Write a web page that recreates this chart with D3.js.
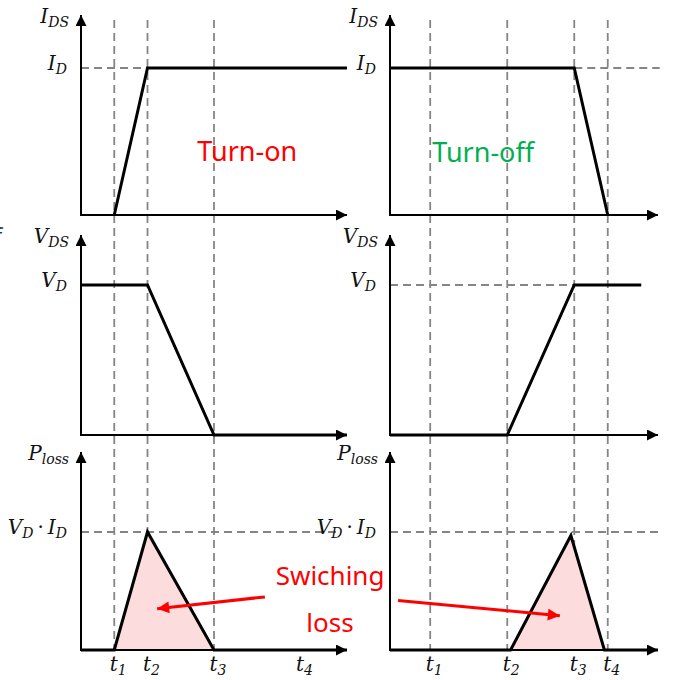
<!DOCTYPE html>
<html>
<head>
<meta charset="utf-8">
<script src="https://cdn.jsdelivr.net/npm/d3@7"></script>
<style>
	body { margin: 0; background: #fff; }
	.math { font-family: "DejaVu Serif", "Liberation Serif", serif; font-style: italic; fill: #111; }
	.note { font-family: "Noto Sans", "Open Sans", sans-serif; }
</style>
</head>
<body>
<div class="container"></div>
<script>

// time instants t1..t4 (panel time units)
const onTimes = [1, 2, 4, 6.6];
const offTimes = [1.2, 3.5, 5.5, 6.5];
const timeNames = ["1", "2", "3", "4"];

// waveforms [time, level] where level 1 = I_D / V_D / V_D*I_D
const onCurrent = [[1, 0], [2, 1], [8, 1]];
const onVoltage = [[0, 1], [2, 1], [4, 0], [8, 0]];
const onLoss = [[0, 0], [1, 0], [2, 1], [4, 0], [8, 0]];
const offCurrent = [[0, 1], [5.5, 1], [6.5, 0]];
const offVoltage = [[0, 0], [3.5, 0], [5.5, 1], [7.5, 1]];
const offLoss = [[0, 0], [3.6, 0], [5.4, 0.97], [6.4, 0], [8, 0]];

// axis names and level names
const axisNames = [[["I", ""], ["DS", "sub"]], [["V", ""], ["DS", "sub"]], [["P", ""], ["loss", "sub"]]];
const levelNames = [[["I", ""], ["D", "sub"]], [["V", ""], ["D", "sub"]], [["V", ""], ["D", "sub"], ["\u2009·\u2009", "up"], ["I", ""], ["D", "sub"]]];

const outerWidth = 680, outerHeight = 680;
const svg = d3.select(".container").append("svg")
	.attr("width", outerWidth)
	.attr("height", outerHeight);

const defs = svg.append("defs");
defs.append("marker")
	.attr("id", "axhead")
	.attr("viewBox", "0 0 10 10")
	.attr("refX", 10).attr("refY", 5)
	.attr("markerWidth", 6).attr("markerHeight", 5.5)
	.attr("markerUnits", "strokeWidth")
	.attr("orient", "auto")
	.append("path").attr("d", "M0,0L10,5L0,10Z").style("fill", "#000");
defs.append("marker")
	.attr("id", "redhead")
	.attr("viewBox", "0 0 10 10")
	.attr("refX", 10).attr("refY", 5)
	.attr("markerWidth", 5).attr("markerHeight", 4)
	.attr("markerUnits", "strokeWidth")
	.attr("orient", "auto")
	.append("path").attr("d", "M0,0L10,5L0,10Z").style("fill", "#f00");

// layout
const cols = [
	{ x0: 81, x1: 347, times: onTimes, waves: [onCurrent, onVoltage, onLoss] },
	{ x0: 390, x1: 658, times: offTimes, waves: [offCurrent, offVoltage, offLoss] }
];
const rows = [
	{ top: 15, level: 68, base: 215 },
	{ top: 235, level: 285, base: 435 },
	{ top: 452, level: 532, base: 650 }
];
const dashTop = 20;

const scaleX = cols.map((c) => d3.scaleLinear().domain([0, 8]).range([c.x0, c.x1]));
const scaleY = rows.map((r) => d3.scaleLinear().domain([0, 1]).range([r.base, r.level]));

const dash = (sel) => sel.style("stroke", "#858585").style("stroke-width", 1.8).style("stroke-dasharray", "8,5").style("fill", "none");

function mathLabel(parent, x, y, parts, anchor) {
	const t = parent.append("text")
		.attr("class", "math")
		.attr("x", x).attr("y", y)
		.attr("text-anchor", anchor || "end")
		.style("font-size", "20px");
	parts.forEach((p, i) => {
		const prev = i > 0 ? parts[i - 1][1] : "";
		let dy = 0;
		if (p[1] === "sub" && prev !== "sub") dy = 4;
		if (p[1] !== "sub" && prev === "sub") dy = -4;
		const span = t.append("tspan").text(p[0]).attr("dy", dy);
		if (p[1] === "sub") span.style("font-size", "14px");
		if (p[1] === "up") span.style("font-style", "normal");
	});
	return t;
}

cols.forEach((c, ci) => {
	const xs = scaleX[ci];
	const g = svg.append("g").attr("class", "col");

	// vertical dashed guides at t1..t4
	const guides = ci === 0 ? c.times.slice(0, 3) : c.times;
	g.selectAll(".guide")
		.data(guides).enter()
		.append("line")
			.attr("class", "guide")
			.attr("x1", (d) => xs(d)).attr("x2", (d) => xs(d))
			.attr("y1", dashTop).attr("y2", rows[2].base)
			.call(dash);

	rows.forEach((r, ri) => {
		const ys = scaleY[ri];
		const wave = c.waves[ri];

		// horizontal dashed level
		let hx = null;
		if (ci === 0 && ri === 0) hx = [0, c.times[1]];
		if (ci === 0 && ri === 2) hx = [0, 7.7];
		if (ci === 1 && ri === 0) hx = [c.times[2], 8.05];
		if (ci === 1 && ri === 1) hx = [0, c.times[2]];
		if (ci === 1 && ri === 2) hx = [0, 8.05];
		if (hx) {
			g.append("line")
				.attr("x1", xs(hx[0])).attr("x2", xs(hx[1]))
				.attr("y1", ys(1)).attr("y2", ys(1))
				.call(dash);
		}

		// loss area
		if (ri === 2) {
			g.append("path")
				.datum(wave)
				.attr("d", d3.area().x((d) => xs(d[0])).y0(ys(0)).y1((d) => ys(d[1])))
				.style("fill", "#fcdcdd");
		}

		// axes
		g.append("line")
			.attr("x1", c.x0).attr("x2", c.x0)
			.attr("y1", r.base + 1).attr("y2", r.top)
			.style("stroke", "#000").style("stroke-width", 2)
			.attr("marker-end", "url(#axhead)");
		g.append("line")
			.attr("x1", c.x0 - 1).attr("x2", c.x1)
			.attr("y1", r.base).attr("y2", r.base)
			.style("stroke", "#000").style("stroke-width", 2)
			.attr("marker-end", "url(#axhead)");

		// waveform
		g.append("path")
			.datum(wave)
			.attr("d", d3.line().x((d) => xs(d[0])).y((d) => ys(d[1])))
			.style("fill", "none")
			.style("stroke", "#000")
			.style("stroke-width", 3)
			.style("stroke-linejoin", "miter");

		// labels
		mathLabel(g, c.x0 - 12, r.top + 8, axisNames[ri]);
		mathLabel(g, c.x0 - 14, ys(1) + 2, levelNames[ri]);
	});

	// time labels
	const tl = g.selectAll(".tlabel")
		.data(c.times).enter()
		.append("text")
			.attr("class", "math tlabel")
			.attr("x", (d) => xs(d) + 4)
			.attr("y", rows[2].base + 21)
			.attr("text-anchor", "middle")
			.style("font-size", "20px");
	tl.append("tspan").text("t");
	tl.append("tspan").text((d, i) => timeNames[i]).attr("dy", 4).style("font-size", "14px");
});

// notes
svg.append("text")
	.attr("class", "note")
	.attr("x", scaleX[0](5)).attr("y", 161)
	.attr("text-anchor", "middle")
	.style("font-size", "27px").style("fill", "#ff0000")
	.text("Turn-on");
svg.append("text")
	.attr("class", "note")
	.attr("x", scaleX[1](2.78)).attr("y", 162)
	.attr("text-anchor", "middle")
	.style("font-size", "27px").style("fill", "#00b050")
	.text("Turn-off");

const lossNote = svg.append("g").attr("class", "note");
lossNote.append("text")
	.attr("x", scaleX[0](7.49)).attr("y", scaleY[2](0.55))
	.attr("text-anchor", "middle")
	.style("font-size", "26px").style("fill", "#ff0000")
	.text("Swiching");
lossNote.append("text")
	.attr("x", scaleX[0](7.49)).attr("y", scaleY[2](0.15))
	.attr("text-anchor", "middle")
	.style("font-size", "26px").style("fill", "#ff0000")
	.text("loss");

// arrows [from, to] in each panel's units
const arrows = [
	{ col: 0, from: [5.53, 0.45], to: [2.29, 0.35] },
	{ col: 1, from: [0.24, 0.42], to: [5.07, 0.29] }
];
svg.selectAll(".arrow")
	.data(arrows).enter()
	.append("line")
		.attr("class", "arrow")
		.attr("x1", (d) => scaleX[d.col](d.from[0]))
		.attr("y1", (d) => scaleY[2](d.from[1]))
		.attr("x2", (d) => scaleX[d.col](d.to[0]))
		.attr("y2", (d) => scaleY[2](d.to[1]))
		.style("stroke", "#f00").style("stroke-width", 3)
		.attr("marker-end", "url(#redhead)");

// clipped glyph at the left edge
svg.append("text")
	.attr("x", -6).attr("y", 245)
	.style("font-family", "Noto Sans, sans-serif")
	.style("font-size", "24px").style("fill", "#1f3864")
	.text("f");

</script>
</body>
</html>
